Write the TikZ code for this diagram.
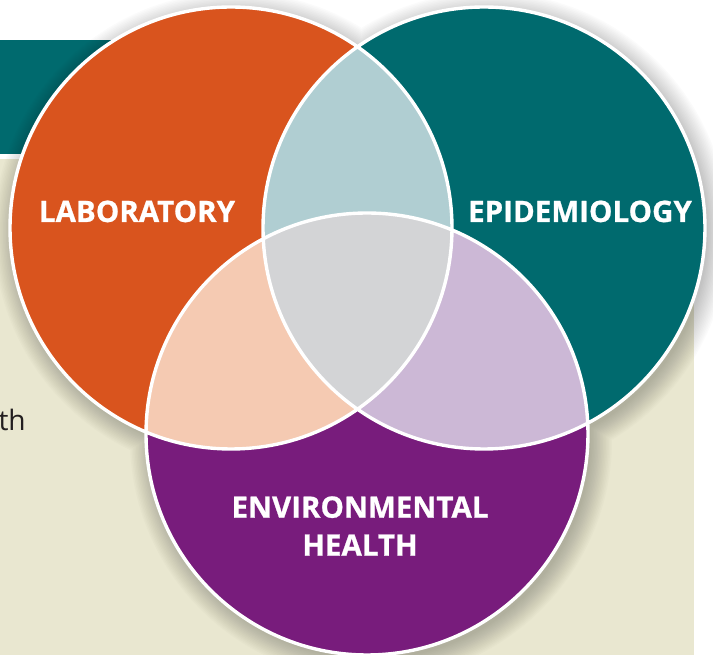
\documentclass[tikz,border=0pt]{standalone}
\usepackage{fontspec}
\setmainfont{Open Sans}[BoldFeatures={FakeBold=0.8}]
\usetikzlibrary{positioning}

\definecolor{labo}{HTML}{D9541E}
\definecolor{epi}{HTML}{006A6E}
\definecolor{env}{HTML}{781C7C}
\definecolor{laboepi}{HTML}{B0CED2}
\definecolor{laboenv}{HTML}{F5CAB2}
\definecolor{epienv}{HTML}{CCB8D6}
\definecolor{allthree}{HTML}{D3D4D6}
\definecolor{panel}{HTML}{E9E7D0}
\definecolor{bodytext}{HTML}{231F20}

\begin{document}
\begin{tikzpicture}[x=0.025cm, y=-0.025cm,
    area/.style={font=\bfseries\fontsize{21}{27}\selectfont, text=white, align=center, inner sep=0pt},
    ring/.style={draw=white, line width=0.085cm}]
    \useasboundingbox (0,0) rectangle (713,655);
    \fill[epi] (0,40) rectangle (330,154);
    \fill[panel] (0,159) rectangle (694,655);
    \node[anchor=base east, inner sep=0pt, text=bodytext, font=\fontsize{20}{24}\selectfont] (th) at (26,431) {th};

    \coordinate (labc) at (231,228);
    \coordinate (epic) at (484,228);
    \coordinate (envc) at (367,434);
    \def\vennr{221}

    % soft shadow under the three circles
    \begin{scope}[blend mode=multiply]
    \foreach \k in {0,...,14} {
        \pgfmathsetmacro\sr{\vennr+20-1.5*\k}
        \fill[black!1.4!white] ([shift={(4,5)}]labc) circle (\sr) ([shift={(4,5)}]epic) circle (\sr) ([shift={(4,5)}]envc) circle (\sr);
    }
    \end{scope}

    \fill[labo] (labc) circle (\vennr);
    \fill[epi] (epic) circle (\vennr);
    \fill[env] (envc) circle (\vennr);
    \begin{scope}
        \clip (epic) circle (\vennr);
        \fill[epienv] (envc) circle (\vennr);
    \end{scope}
    \begin{scope}
        \clip (labc) circle (\vennr);
        \fill[laboepi] (epic) circle (\vennr);
        \fill[laboenv] (envc) circle (\vennr);
        \clip (epic) circle (\vennr);
        \fill[allthree] (envc) circle (\vennr);
    \end{scope}
    \draw[ring] (labc) circle (\vennr) (epic) circle (\vennr) (envc) circle (\vennr);

    \node[area, anchor=base] (lab) at (137,222) {LABORATORY};
    \node[area, anchor=base] (epid) at (580,222) {EPIDEMIOLOGY};
    \node[area] (envh) at (360,526) {ENVIRONMENTAL\\HEALTH};
\end{tikzpicture}
\end{document}
